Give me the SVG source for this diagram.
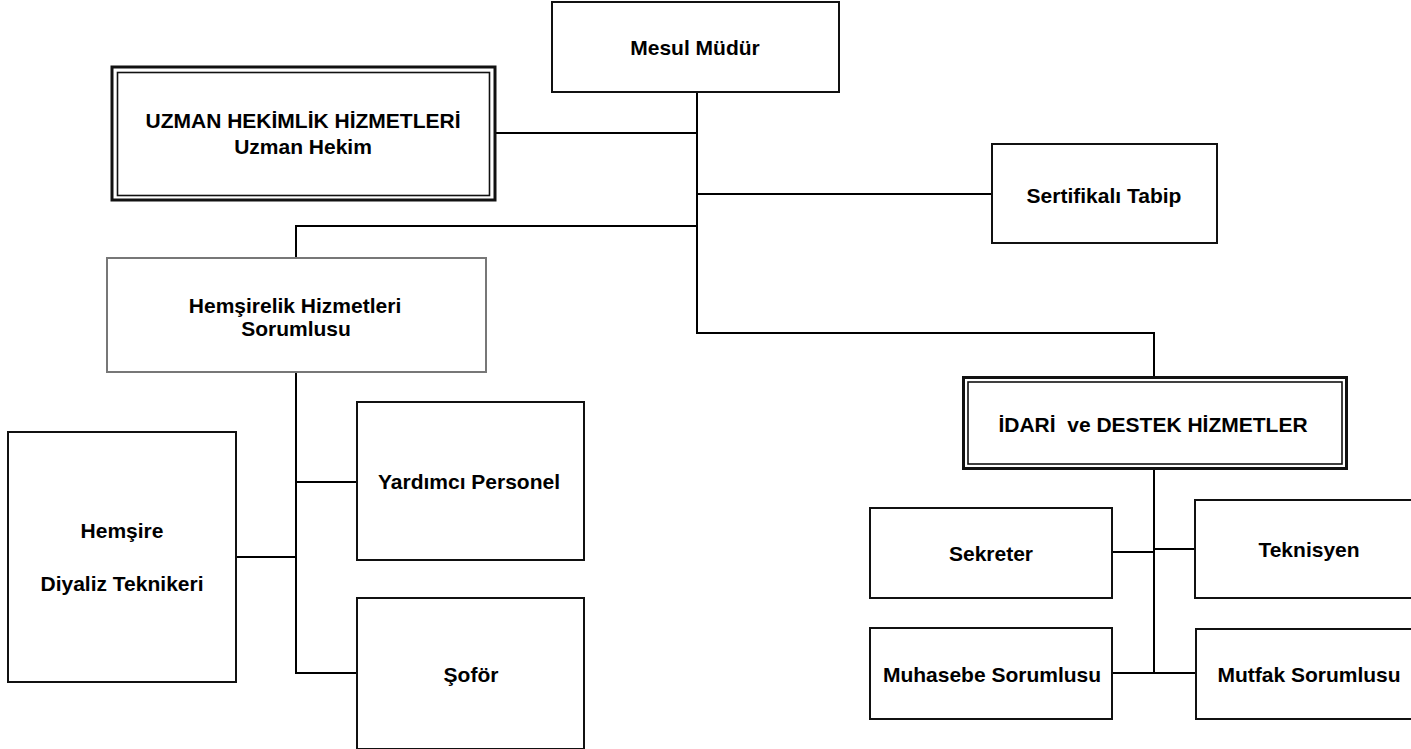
<svg xmlns="http://www.w3.org/2000/svg" width="1411" height="749" viewBox="0 0 1411 749">
<style>
.bx{fill:#fff;stroke:#111;stroke-width:2}
.gx{fill:#fff;stroke:#777;stroke-width:2}
.ob{fill:#fff;stroke:#111;stroke-width:3}
.ib{fill:none;stroke:#111;stroke-width:1.6}
.t{font-family:"Liberation Sans",Arial,sans-serif;font-weight:bold;font-size:21px;fill:#000;text-anchor:middle;white-space:pre}
.c{fill:none;stroke:#000;stroke-width:2}
</style>
<rect width="1411" height="749" fill="#fff"/>
<g id="connectors">
<path class="c" d="M697,92 V333 H1154 V377"/>
<path class="c" d="M496,133 H697"/>
<path class="c" d="M697,194 H992"/>
<path class="c" d="M697,226 H296 V258"/>
<path class="c" d="M296,372 V673 H357"/>
<path class="c" d="M296,482 H357"/>
<path class="c" d="M236,557 H296"/>
<path class="c" d="M1154,468 V673"/>
<path class="c" d="M1112,552 H1154"/>
<path class="c" d="M1154,549 H1195"/>
<path class="c" d="M1112,673 H1196"/>
</g>
<g id="mesul">
<rect class="bx" x="552" y="2" width="287" height="90"/>
<text class="t" x="695" y="55">Mesul Müdür</text>
</g>
<g id="uzman">
<rect class="ob" x="112" y="67" width="383" height="133"/>
<rect class="ib" x="117.5" y="72.5" width="372" height="123"/>
<text class="t" x="303" y="128">UZMAN HEKİMLİK HİZMETLERİ</text>
<text class="t" x="303" y="154">Uzman Hekim</text>
</g>
<g id="sertifikali">
<rect class="bx" x="992" y="144" width="225" height="99"/>
<text class="t" x="1104" y="203">Sertifikalı Tabip</text>
</g>
<g id="hemsirelik">
<rect class="gx" x="107" y="258" width="379" height="114"/>
<text class="t" x="295" y="313">Hemşirelik Hizmetleri</text>
<text class="t" x="296" y="336">Sorumlusu</text>
</g>
<g id="hemsire">
<rect class="bx" x="8" y="432" width="228" height="250"/>
<text class="t" x="122" y="538">Hemşire</text>
<text class="t" x="122" y="591">Diyaliz Teknikeri</text>
</g>
<g id="yardimci">
<rect class="bx" x="357" y="402" width="227" height="158"/>
<text class="t" x="469" y="489">Yardımcı Personel</text>
</g>
<g id="sofor">
<rect class="bx" x="357" y="598" width="227" height="151"/>
<text class="t" x="471" y="682">Şoför</text>
</g>
<g id="idari">
<rect class="ob" x="963.5" y="377.5" width="383" height="91"/>
<rect class="ib" x="968" y="382" width="374" height="82"/>
<text class="t" x="1153" y="432">İDARİ  ve DESTEK HİZMETLER</text>
</g>
<g id="sekreter">
<rect class="bx" x="870" y="508" width="242" height="90"/>
<text class="t" x="991" y="561">Sekreter</text>
</g>
<g id="teknisyen">
<rect class="bx" x="1195" y="500" width="230" height="98"/>
<text class="t" x="1309" y="557">Teknisyen</text>
</g>
<g id="muhasebe">
<rect class="bx" x="870" y="628" width="242" height="91"/>
<text class="t" x="992" y="682">Muhasebe Sorumlusu</text>
</g>
<g id="mutfak">
<rect class="bx" x="1196" y="629" width="230" height="90"/>
<text class="t" x="1309" y="682">Mutfak Sorumlusu</text>
</g>
</svg>
